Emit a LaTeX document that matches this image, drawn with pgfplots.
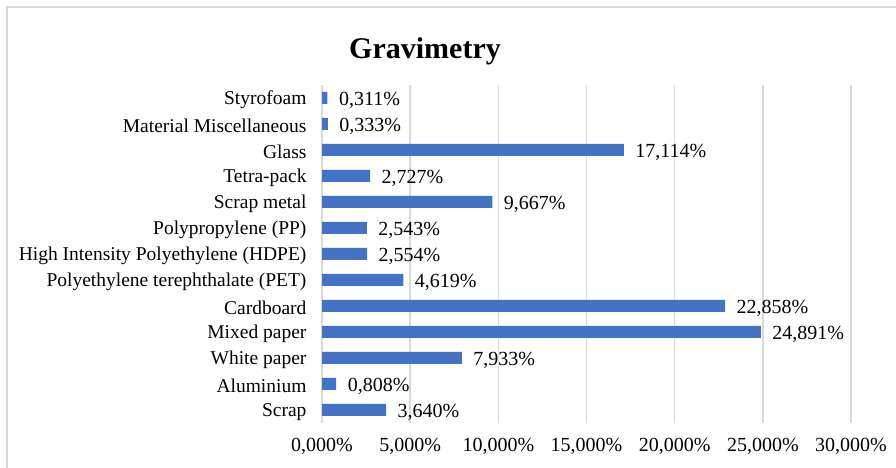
\documentclass[border=0pt]{standalone}
\usepackage{pgfplots}
\pgfplotsset{compat=1.18}
\usepackage{fontspec}
\setmainfont{Liberation Serif}
\definecolor{barblue}{HTML}{4472C4}
\definecolor{gridgray}{HTML}{D9D9D9}
\begin{document}
\begin{tikzpicture}[x=1pt,y=1pt]
\path[use as bounding box] (0,0) rectangle (896,468);
\draw[gridgray, line width=1.5pt] (7,-5) -- (7,461) -- (905,461);
\node[font=\fontsize{30}{34}\selectfont\bfseries] at (425,417) {Gravimetry};
\begin{axis}[
  at={(322pt,45pt)}, anchor=south west,
  scale only axis, width=529pt, height=338pt,
  xbar, bar width=12pt,
  xmin=0, xmax=30, ymin=-0.5, ymax=12.5,
  xtick={0,5,10,15,20,25,30},
  ytick={0,...,12},
  yticklabels={Scrap, Aluminium, White paper, Mixed paper, Cardboard, Polyethylene terephthalate (PET), High Intensity Polyethylene (HDPE), Polypropylene (PP), Scrap metal, Tetra-pack, Glass, Material Miscellaneous, Styrofoam},
  xticklabel={\pgfmathprintnumber[fixed,precision=3,zerofill,use comma,assume math mode=true]{\tick}\%},
  axis line style={draw=none},
  major tick length=0pt,
  xmajorgrids, grid style={gridgray, line width=1.5pt},
  tick label style={font=\fontsize{20}{23}\selectfont, text=black},
  yticklabel style={xshift=-12pt, yshift=-2pt, font=\fontsize{19.5}{23}\selectfont},
  xticklabel style={yshift=-12pt},
  nodes near coords={\pgfmathprintnumber[fixed,precision=3,zerofill,use comma,assume math mode=true]{\pgfplotspointmeta}\%},
  nodes near coords style={font=\fontsize{20}{23}\selectfont, text=black, anchor=west, xshift=8pt, yshift=-2pt},
  point meta=x,
  clip=false,
]
\addplot[fill=barblue, draw=none] coordinates {
  (3.640,0) (0.808,1) (7.933,2) (24.891,3) (22.858,4) (4.619,5) (2.554,6) (2.543,7) (9.667,8) (2.727,9) (17.114,10) (0.333,11) (0.311,12)
};
\end{axis}
\end{tikzpicture}
\end{document}
